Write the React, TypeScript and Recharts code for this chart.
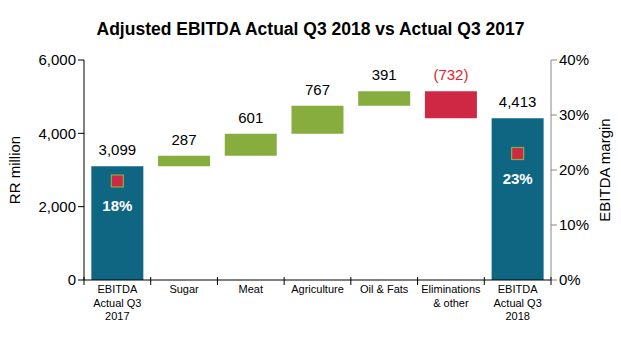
import {
  Bar,
  Cell,
  ComposedChart,
  LabelList,
  Scatter,
  XAxis,
  YAxis,
} from "recharts";

const categories = [
  "EBITDA|Actual Q3|2017",
  "Sugar",
  "Meat",
  "Agriculture",
  "Oil & Fats",
  "Eliminations|& other",
  "EBITDA|Actual Q3|2018",
];
const values = [3099, 287, 601, 767, 391, -732, 4413];
const kinds = ["total", "up", "up", "up", "up", "down", "total"];
const margins: (number | null)[] = [18, null, null, null, null, null, 23];

const colors: Record<string, string> = {
  total: "#0F6683",
  up: "#88AD3F",
  down: "#CF2845",
};

let running = 0;
const data = categories.map((name, i) => {
  const v = values[i];
  let base = 0;
  let size = v;
  if (kinds[i] === "total") {
    running = v;
  } else if (v >= 0) {
    base = running;
    running += v;
  } else {
    running += v;
    base = running;
    size = -v;
  }
  return { name, value: v, kind: kinds[i], base, size, margin: margins[i] };
});

const fmt = (v: number) =>
  v < 0 ? `(${Math.abs(v).toLocaleString("en-US")})` : v.toLocaleString("en-US");

function CatTick(props: any) {
  const { x, y, payload, index, visibleTicksCount } = props;
  const half = payload.offset ?? 33;
  const lines = String(payload.value).split("|");
  return (
    <g>
      <line x1={x - half} x2={x - half} y1={y - 11} y2={y - 3} stroke="#000" />
      {index === visibleTicksCount - 1 && (
        <line x1={x + half} x2={x + half} y1={y - 11} y2={y - 3} stroke="#000" />
      )}
      <text textAnchor="middle" fontSize={11} fill="#000">
        {lines.map((l, k) => (
          <tspan key={k} x={x} y={y + 5 + k * 13.5}>
            {l}
          </tspan>
        ))}
      </text>
    </g>
  );
}

function ValueLabel(props: any) {
  const { x, y, width, height, index } = props;
  const d = data[index];
  const top = Math.min(y, y + height);
  return (
    <text
      x={x + width / 2}
      y={top - 11}
      textAnchor="middle"
      fontSize={15}
      fill={d.value < 0 ? "#E8202A" : "#000"}
    >
      {fmt(d.value)}
    </text>
  );
}

function MarginMark(props: any) {
  const { cx, cy, payload } = props;
  if (payload.margin == null || cx == null) return null;
  return (
    <g>
      <rect x={cx - 6} y={cy - 6} width={12} height={12} fill="#CF2845" stroke="#88AD3F" strokeWidth={1.2} />
      <text x={cx} y={cy + 30} textAnchor="middle" fontSize={15} fontWeight="bold" fill="#fff">
        {payload.margin}%
      </text>
    </g>
  );
}

export default function App() {
  return (
    <div
      style={{
        position: "absolute",
        left: 0,
        top: 0,
        width: 621,
        height: 360,
        background: "#fff",
        fontFamily: "'Liberation Sans', Arial, sans-serif",
      }}
    >
      <div
        style={{
          position: "absolute",
          top: 19,
          left: 0,
          width: 621,
          textAlign: "center",
          fontSize: 17.5,
          fontWeight: "bold",
        }}
      >
        Adjusted EBITDA Actual Q3 2018 vs Actual Q3 2017
      </div>
      <ComposedChart
        width={621}
        height={360}
        data={data}
        margin={{ top: 60, right: 0, bottom: 0, left: 0 }}
        barCategoryGap="11%"
        style={{ fontFamily: "'Liberation Sans', Arial, sans-serif" }}
      >
        <XAxis
          dataKey="name"
          height={80}
          stroke="#000"
          tickLine={false}
          tick={<CatTick />}
          interval={0}
        />
        <YAxis
          yAxisId="left"
          width={84}
          domain={[0, 6000]}
          ticks={[0, 2000, 4000, 6000]}
          tickFormatter={(v: number) => v.toLocaleString("en-US")}
          stroke="#000"
          tickSize={6}
          tick={{ fill: "#000", fontSize: 15 }}
          label={{
            value: "RR million",
            angle: -90,
            position: "insideLeft",
            offset: 15,
            style: { textAnchor: "middle", fill: "#000", fontSize: 15 },
          }}
        />
        <YAxis
          yAxisId="right"
          orientation="right"
          width={70}
          domain={[0, 40]}
          ticks={[0, 10, 20, 30, 40]}
          tickFormatter={(v: number) => `${v}%`}
          stroke="#888"
          tickSize={6}
          tick={{ fill: "#000", fontSize: 15 }}
          label={{
            value: "EBITDA margin",
            angle: -90,
            position: "insideRight",
            offset: 16,
            style: { textAnchor: "middle", fill: "#000", fontSize: 15 },
          }}
        />
        <Bar yAxisId="left" dataKey="base" stackId="w" fill="transparent" isAnimationActive={false} />
        <Bar yAxisId="left" dataKey="size" stackId="w" isAnimationActive={false}>
          {data.map((d, i) => (
            <Cell key={i} fill={colors[d.kind]} />
          ))}
          <LabelList dataKey="size" content={<ValueLabel />} />
        </Bar>
        <Scatter
          yAxisId="right"
          dataKey="margin"
          shape={<MarginMark />}
          isAnimationActive={false}
        />
      </ComposedChart>
    </div>
  );
}
